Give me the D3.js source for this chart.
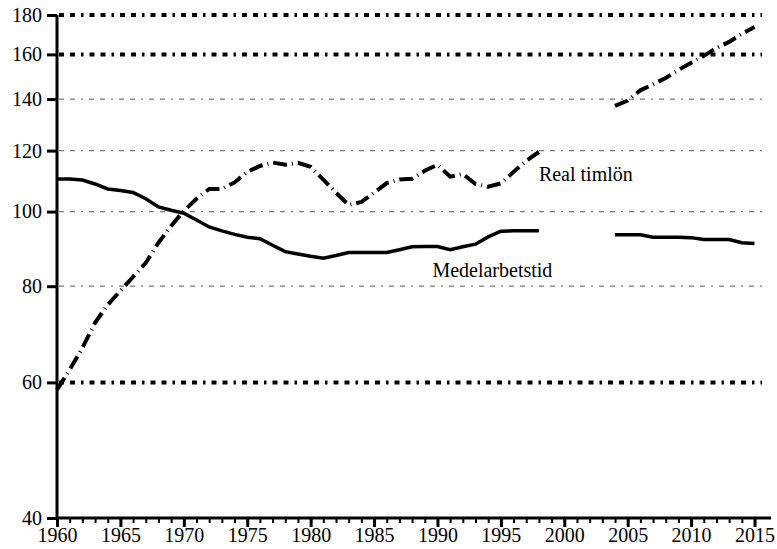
<!DOCTYPE html>
<html lang="sv">
<head>
    <meta charset="UTF-8">
    <title>Real timlön och medelarbetstid</title>
    <script src="https://d3js.org/d3.v7.min.js"></script>
    <style>
        body { margin: 0; background: #fff; overflow: hidden; }
        svg text { font-family: "Liberation Serif", "Times New Roman", Times, serif !important; fill: #000; }
    </style>
</head>
<body>
    <div id="chart"></div>
    <script>
        const width = 777, height = 549;
        const serif = "'Liberation Serif', 'Times New Roman', Times, serif";

        // data (index 1960..2015, null = missing)
        const years = d3.range(1960, 2016);
        const realTimlon = [
            58.7, 62.3, 66.5, 71.7, 75.7, 78.9, 82.3, 85.8, 91.1, 95.8,
            100.2, 103.9, 107.0, 107.0, 109.1, 112.6, 114.6, 115.8, 115.0, 115.7,
            114.3, 110.0, 105.8, 102.0, 102.9, 105.8, 108.9, 110.1, 110.3, 113.0,
            115.0, 111.0, 111.9, 108.6, 107.7, 108.8, 112.6, 116.4, 119.5, null,
            null, null, null, null, 137.2, 139.4, 143.7, 146.3, 149.1, 152.7,
            156.0, 159.3, 163.1, 166.1, 170.1, 173.7
        ];
        const medelarbetstid = [
            110.2, 110.2, 109.9, 108.6, 107.0, 106.5, 105.9, 103.9, 101.4, 100.4,
            99.5, 97.5, 95.5, 94.4, 93.4, 92.6, 92.2, 90.4, 88.7, 88.1,
            87.5, 87.0, 87.7, 88.5, 88.5, 88.5, 88.5, 89.2, 90.0, 90.1,
            90.1, 89.2, 90.0, 90.7, 92.7, 94.3, 94.4, 94.4, 94.4, null,
            null, null, null, null, 93.3, 93.3, 93.3, 92.6, 92.6, 92.6,
            92.5, 92.0, 92.0, 92.0, 91.1, 90.9
        ];
        const yTicks = [40, 60, 80, 100, 120, 140, 160, 180];
        const thickGrid = [60, 160, 180];
        const thinGrid = [80, 100, 120, 140];
        const xTicks = d3.range(1960, 2016, 5);

        const svg = d3.select("#chart").append("svg")
            .attr("width", width)
            .attr("height", height)
            .style("font-family", serif);

        const x = d3.scaleLinear().domain([1960, 2016.3]).range([57, 771]);
        const y = d3.scaleLog().domain([40, 180]).range([518, 15]);

        // gridlines
        svg.selectAll(".thin-grid")
            .data(thinGrid)
            .enter().append("line")
            .attr("x1", 59).attr("x2", 762)
            .attr("y1", d => y(d)).attr("y2", d => y(d))
            .attr("stroke", "#7a7a7a")
            .attr("stroke-width", 1.3)
            .attr("stroke-dasharray", "5,6,5,6,2,6");

        svg.selectAll(".thick-grid")
            .data(thickGrid)
            .enter().append("line")
            .attr("x1", 59).attr("x2", 762)
            .attr("y1", d => y(d)).attr("y2", d => y(d))
            .attr("stroke", "#000")
            .attr("stroke-width", 4)
            .attr("stroke-dasharray", "5,6,5,6,2.5,6");

        // lines
        const rows = years.map((yr, i) => ({ year: yr, real: realTimlon[i], medel: medelarbetstid[i] }));

        const lineReal = d3.line()
            .defined(d => d.real != null)
            .x(d => x(d.year))
            .y(d => y(d.real));

        const lineMedel = d3.line()
            .defined(d => d.medel != null)
            .x(d => x(d.year))
            .y(d => y(d.medel));

        svg.append("path")
            .datum(rows)
            .attr("d", lineMedel)
            .attr("fill", "none")
            .attr("stroke", "#000")
            .attr("stroke-width", 3.5);

        svg.append("path")
            .datum(rows)
            .attr("d", lineReal)
            .attr("fill", "none")
            .attr("stroke", "#000")
            .attr("stroke-width", 4)
            .attr("stroke-dasharray", "14,5,1,5");

        // y axis
        const yAxis = svg.append("g")
            .attr("transform", "translate(57,0)")
            .call(d3.axisLeft(y).tickValues(yTicks).tickFormat(d3.format("d")).tickSize(10).tickPadding(5));
        yAxis.attr("font-family", serif).attr("font-size", 20);
        yAxis.select(".domain").attr("stroke-width", 3).attr("d", `M0,${y(180)}V${y(40)}`);
        yAxis.selectAll(".tick line").attr("stroke-width", 3);

        // x axis: minor ticks every year, major every 5
        svg.append("g")
            .attr("transform", "translate(0,518)")
            .call(d3.axisBottom(x).tickValues(years).tickSize(5).tickFormat(""))
            .call(g => g.select(".domain").remove())
            .selectAll(".tick line").attr("stroke-width", 2);

        const xAxis = svg.append("g")
            .attr("transform", "translate(0,518)")
            .call(d3.axisBottom(x).tickValues(xTicks).tickFormat(d3.format("d")).tickSize(9).tickPadding(1));
        xAxis.attr("font-family", serif).attr("font-size", 20);
        xAxis.select(".domain").attr("stroke-width", 3).attr("d", `M${x(1960)},0H${x(2016.3)}`);
        xAxis.selectAll(".tick line").attr("stroke-width", 3);

        // series labels
        svg.append("text")
            .attr("x", x(1998))
            .attr("y", y(109.6))
            .style("font-size", "20px")
            .text("Real timlön");

        svg.append("text")
            .attr("x", x(1989.6))
            .attr("y", y(82.2))
            .style("font-size", "20px")
            .text("Medelarbetstid");
    </script>
</body>
</html>
